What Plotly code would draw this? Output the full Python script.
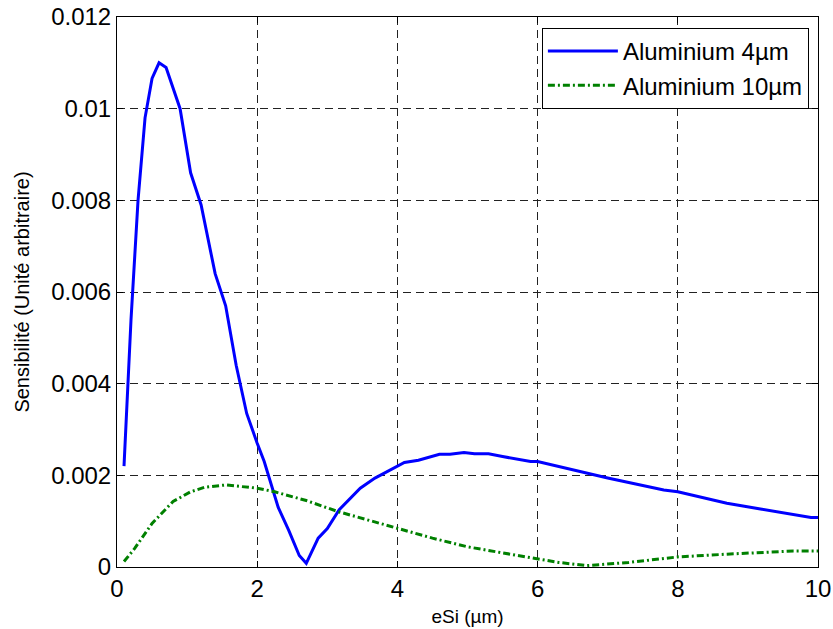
import plotly.graph_objects as go

# Series: Aluminium 4µm
x_al4 = [0.1, 0.2, 0.3, 0.4, 0.5, 0.6, 0.7, 0.9, 1.05, 1.2, 1.4, 1.55, 1.7, 1.85, 2.0, 2.1,
         2.3, 2.45, 2.6, 2.7, 2.87, 3.0, 3.17, 3.47, 3.68, 4.0, 4.1, 4.3, 4.6, 4.75, 4.95,
         5.1, 5.3, 5.5, 5.7, 5.9, 6.0, 6.3, 6.6, 7.0, 7.4, 7.8, 8.0, 8.3, 8.7, 9.2, 9.6, 9.9, 10.0]
y_al4 = [0.0022, 0.0054, 0.0080, 0.0098, 0.01066, 0.0110, 0.0109, 0.0100, 0.0086, 0.0079,
         0.0064, 0.0057, 0.0044, 0.00335, 0.0027, 0.0023, 0.0013, 0.0008, 0.00025, 0.00008,
         0.00063, 0.00084, 0.00125, 0.00172, 0.00194, 0.00221, 0.00228, 0.00233, 0.00246,
         0.00246, 0.0025, 0.00247, 0.00247, 0.00241, 0.00236, 0.0023, 0.0023, 0.00219,
         0.00208, 0.00194, 0.00181, 0.00168, 0.00164, 0.00153, 0.00139, 0.00126, 0.00115,
         0.00108, 0.00108]

# Series: Aluminium 10µm
x_al10 = [0.1, 0.25, 0.5, 0.8, 1.05, 1.25, 1.55, 2.0, 2.25, 2.7, 3.15, 3.5, 4.0, 4.5, 5.0,
          5.4, 5.95, 6.3, 6.7, 7.3, 8.0, 8.7, 9.2, 9.65, 10.0]
y_al10 = [0.00012, 0.0004, 0.00095, 0.00143, 0.00164, 0.00174, 0.00179, 0.00172, 0.00164,
          0.00145, 0.00121, 0.00106, 0.00084, 0.00063, 0.00044, 0.00033, 0.00019, 0.0001,
          0.00003, 0.0001, 0.00022, 0.00028, 0.00031, 0.00035, 0.00035]

series_names = ["Aluminium 4µm", "Aluminium 10µm"]

x_ticks = [0, 2, 4, 6, 8, 10]
y_ticks = [0, 0.002, 0.004, 0.006, 0.008, 0.01, 0.012]
y_ticktext = ["0", "0.002", "0.004", "0.006", "0.008", "0.01", "0.012"]

font_family = "Liberation Sans, Arial, sans-serif"

fig = go.Figure()
fig.add_trace(go.Scatter(x=x_al4, y=y_al4, mode="lines", name=series_names[0],
                         line=dict(color="#0000ff", width=3)))
fig.add_trace(go.Scatter(x=x_al10, y=y_al10, mode="lines", name=series_names[1],
                         line=dict(color="#008000", width=3, dash="7px,3px,2px,3px")))

axis_common = dict(
    showline=True, linecolor="black", linewidth=1, mirror="ticks",
    ticks="inside", ticklen=6, tickcolor="black",
    showgrid=True, gridcolor="#222222", gridwidth=1, griddash="8px,5px",
    zeroline=False, automargin=False, ticklabeloverflow="allow",
    tickfont=dict(family=font_family, size=24, color="black"),
)

fig.update_xaxes(range=[0, 10], tickvals=x_ticks, ticktext=[str(v) for v in x_ticks],
                 title=dict(text="eSi (µm)", font=dict(family=font_family, size=19, color="black"),
                            standoff=8),
                 **axis_common)
fig.update_yaxes(range=[0, 0.012], tickvals=y_ticks, ticktext=y_ticktext,
                 title=dict(text="Sensibilité (Unité arbitraire)",
                            font=dict(family=font_family, size=20, color="black"), standoff=16),
                 **axis_common)

fig.update_layout(
    width=833, height=629,
    margin=dict(l=117, r=15, t=17, b=62),
    paper_bgcolor="white", plot_bgcolor="white",
    font=dict(family=font_family, color="black"),
    legend=dict(x=0.987, xanchor="right", y=0.98, yanchor="top",
                bgcolor="white", bordercolor="black", borderwidth=1,
                font=dict(family=font_family, size=24, color="black"),
                itemwidth=70, tracegroupgap=0),
    showlegend=True,
)

# remove the browser's default page margin so the figure sits at the window origin
fig.write_html("out.html", config={"displayModeBar": False},
               post_script="document.body.style.margin='0';")
